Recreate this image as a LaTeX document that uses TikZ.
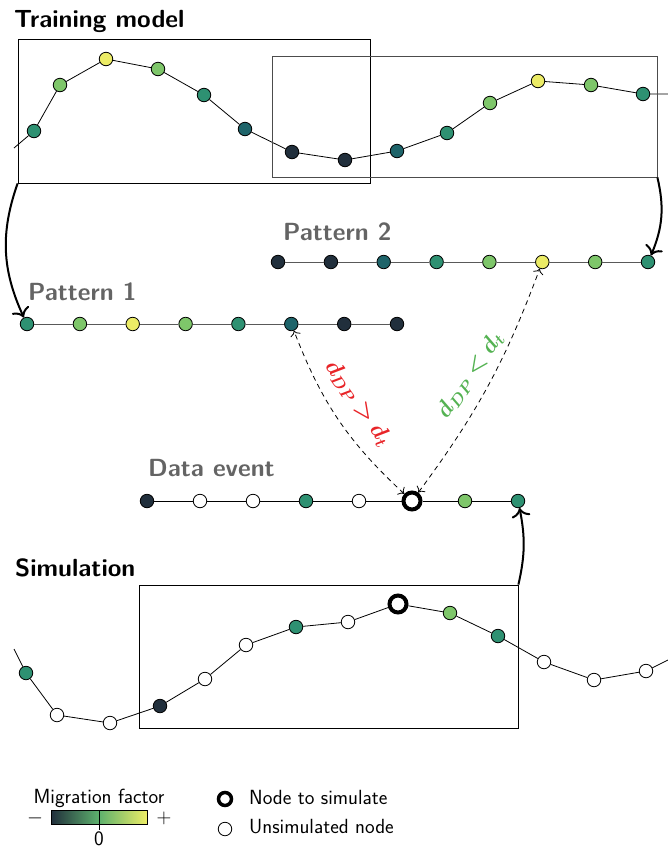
\RequirePackage{fix-cm}
\documentclass[tikz,border=0pt]{standalone}
\usepackage{amsmath, amssymb, bm}
\usepackage{tikz}
\usetikzlibrary{arrows,arrows.meta,calc,positioning}
\definecolor{mfA}{RGB}{33,47,60}
\definecolor{mfB}{RGB}{30,100,106}
\definecolor{mfC}{RGB}{46,145,114}
\definecolor{mfD}{RGB}{126,198,106}
\definecolor{mfE}{RGB}{236,236,102}
\definecolor{lblgray}{RGB}{100,100,100}
\definecolor{dred}{RGB}{232,36,40}
\definecolor{dgreen}{RGB}{84,178,82}
\tikzset{nd/.style={circle,draw,line width=.8pt,inner sep=0pt,minimum size=13.5pt},
  ca/.style={nd,fill=mfA},cb/.style={nd,fill=mfB},cc/.style={nd,fill=mfC},
  cd/.style={nd,fill=mfD},ce/.style={nd,fill=mfE},wn/.style={nd,fill=white},
  tg/.style={circle,draw,fill=white,line width=4pt,inner sep=0pt,minimum size=17pt}}
\tikzset{frame/.style={draw,line width=.8pt,inner sep=0pt},
  fatedge/.style={-{To[scale=1.5]},line width=2pt},
  dpedge/.style={{To[scale=1.5]}-{To[scale=1.5]},dash pattern=on 5pt off 4pt,line width=.8pt},
  ttl/.style={font=\fontsize{24.8}{28}\selectfont\sffamily\bfseries,inner sep=0pt,anchor=base west},
  lgd/.style={font=\fontsize{20.5}{24}\selectfont\sffamily,inner sep=0pt}}

\begin{document}
\begin{tikzpicture}[x=1pt,y=-1pt]
  \useasboundingbox (0,0) rectangle (668,847);
  % training model
  \node[ttl] (ttrain) at (14,27) {Training model};
  \coordinate (t0) at (14,148);
  \node[cc] (t1) at (34,131) {};
  \node[cd] (t2) at (60,85) {};
  \node[ce] (t3) at (106,59) {};
  \node[cd] (t4) at (158,69) {};
  \node[cc] (t5) at (204,95) {};
  \node[cb] (t6) at (245,129) {};
  \node[ca] (t7) at (292,152) {};
  \node[ca] (t8) at (345,160) {};
  \node[cb] (t9) at (397,151) {};
  \node[cc] (t10) at (447,133) {};
  \node[cd] (t11) at (490,103) {};
  \node[ce] (t12) at (538,81) {};
  \node[cd] (t13) at (591,85) {};
  \node[cc] (t14) at (643,94) {};
  \coordinate (t15) at (668,94);
  \draw[line width=.8pt] (t0) -- (t1) -- (t2) -- (t3) -- (t4) -- (t5) -- (t6) -- (t7) -- (t8)
  -- (t9) -- (t10) -- (t11) -- (t12) -- (t13) -- (t14) -- (t15);
  \node[frame,minimum width=352pt,minimum height=144pt] (box1) at (194,111) {};
  \node[frame,draw=black!70,minimum width=385pt,minimum height=121pt] (box2) at (464.5,116.5) {};
  % patterns
  \node[ttl,text=lblgray] (tpat1) at (28,300) {Pattern 1};
  \node[cc] (p1) at (27,324) {};
  \node[cd] (p2) at (79.9,324) {};
  \node[ce] (p3) at (132.7,324) {};
  \node[cd] (p4) at (185.6,324) {};
  \node[cc] (p5) at (238.4,324) {};
  \node[cb] (p6) at (291.3,324) {};
  \node[ca] (p7) at (344.2,324) {};
  \node[ca] (p8) at (397,324) {};
  \draw[line width=.8pt,black!65] (p1) -- (p2) -- (p3) -- (p4) -- (p5) -- (p6) -- (p7) -- (p8);
  \node[ttl,text=lblgray] (tpat2) at (283,240) {Pattern 2};
  \node[ca] (q1) at (278,262) {};
  \node[ca] (q2) at (330.9,262) {};
  \node[cb] (q3) at (383.7,262) {};
  \node[cc] (q4) at (436.6,262) {};
  \node[cd] (q5) at (489.4,262) {};
  \node[ce] (q6) at (542.3,262) {};
  \node[cd] (q7) at (595.2,262) {};
  \node[cc] (q8) at (648,262) {};
  \draw[line width=.8pt,black!65] (q1) -- (q2) -- (q3) -- (q4) -- (q5) -- (q6) -- (q7) -- (q8);
  \draw[fatedge] (box1.south west) to[bend right=22] (p1);
  \draw[fatedge] (box2.south east) to[bend left=18] (q8);
  % data event
  \node[ttl,text=lblgray] (tdata) at (148,476) {Data event};
  \node[ca] (d1) at (147,501) {};
  \node[wn] (d2) at (200,501) {};
  \node[wn] (d3) at (253,501) {};
  \node[cc] (d4) at (306,501) {};
  \node[wn] (d5) at (359,501) {};
  \node[tg] (d6) at (412,501) {};
  \node[cd] (d7) at (465,501) {};
  \node[cc] (d8) at (518,501) {};
  \draw[line width=.8pt] (d1) -- (d2) -- (d3) -- (d4) -- (d5) -- (d6) -- (d7) -- (d8);
  \draw[dpedge] (d6) to[bend left=13] (p6);
  \draw[dpedge] (d6) to[bend right=8] (q6);
  \node[dred,rotate=-55,font=\fontsize{23}{27}\selectfont] (dgt) at (358,403) {$\bm{d_{DP} > d_t}$};
  \node[dgreen,rotate=55,font=\fontsize{23}{27}\selectfont] (dlt) at (470,375) {$\bm{d_{DP} < d_t}$};
  % simulation
  \node[ttl] (tsim) at (15,576) {Simulation};
  \coordinate (s0) at (14,649);
  \node[cc] (s1) at (26,673) {};
  \node[wn] (s2) at (57,715) {};
  \node[wn] (s3) at (110,723) {};
  \node[ca] (s4) at (160,706) {};
  \node[wn] (s5) at (205,679) {};
  \node[wn] (s6) at (246,645) {};
  \node[cc] (s7) at (296,627) {};
  \node[wn] (s8) at (348,622) {};
  \node[tg] (s9) at (398,604) {};
  \node[cd] (s10) at (450,613) {};
  \node[cc] (s11) at (498,636) {};
  \node[wn] (s12) at (544,662) {};
  \node[wn] (s13) at (594,680) {};
  \node[wn] (s14) at (646,671) {};
  \coordinate (s15) at (668,660);
  \draw[line width=.8pt] (s0) -- (s1) -- (s2) -- (s3) -- (s4) -- (s5) -- (s6) -- (s7) -- (s8)
  -- (s9) -- (s10) -- (s11) -- (s12) -- (s13) -- (s14) -- (s15);
  \node[frame,minimum width=379pt,minimum height=143pt] (box3) at (328.5,656.5) {};
  \draw[fatedge] (box3.north east) to[bend right=12] (d8);
  % legend
  \node[lgd,anchor=base] (tmig) at (99,803) {Migration factor};
  \shade[left color=mfA,right color=mfE,middle color=mfD!60!mfC] (51,810) rectangle (147,824);
  \draw[line width=.8pt] (51,810) rectangle (147,824);
  \draw[line width=.6pt] (99,810) -- (99,830);
  \node[lgd,anchor=base] (tzero) at (99,845) {0};
  \node[lgd] (tminus) at (35,818) {$-$};
  \node[lgd] (tplus) at (164,818) {$+$};
  \node[tg,minimum size=13pt,line width=3.5pt] (ltg) at (225,799) {};
  \node[lgd,anchor=base west] (tltg) at (249,804) {Node to simulate};
  \node[wn] (lwn) at (225,829) {};
  \node[lgd,anchor=base west] (tlwn) at (249,833) {Unsimulated node};
\end{tikzpicture}
\end{document}
